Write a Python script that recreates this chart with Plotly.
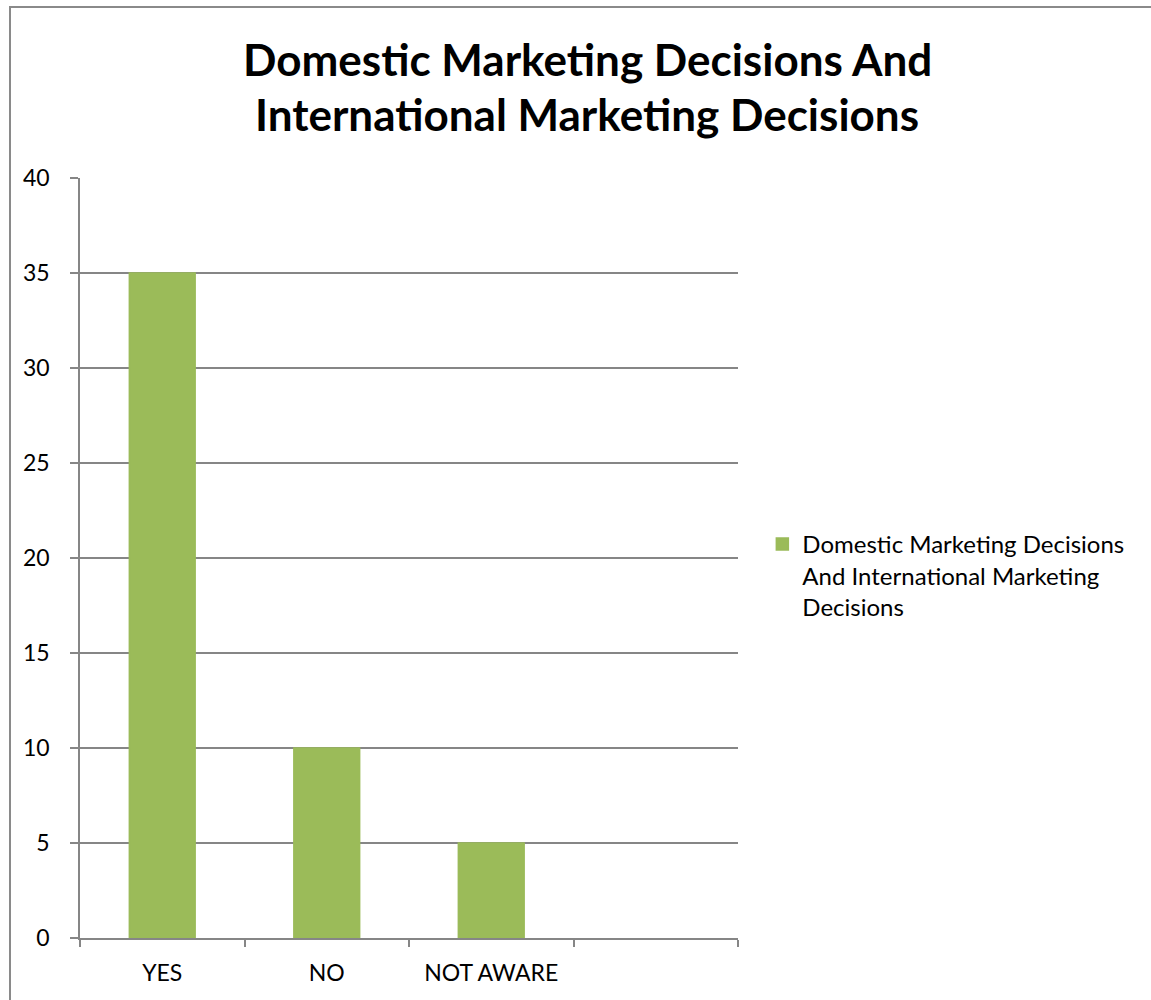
import plotly.graph_objects as go

# Survey responses
categories = ["YES", "NO", "NOT AWARE", " "]
responses = [35, 10, 5, None]
series_name = "Domestic Marketing Decisions<br>And International Marketing<br>Decisions"
title_lines = ["Domestic Marketing Decisions And", "International Marketing Decisions"]
y_ticks = [0, 5, 10, 15, 20, 25, 30, 35, 40]

FONT = "Lato, 'Open Sans', sans-serif"
GRID = "#868686"

fig = go.Figure()
fig.add_trace(go.Bar(
    x=categories,
    y=responses,
    name=series_name,
    width=0.4,
    marker=dict(color="#9BBB59", line=dict(color="#9BBB59", width=1.5)),
    showlegend=True,
))

fig.update_layout(
    width=1151,
    height=1000,
    paper_bgcolor="white",
    plot_bgcolor="white",
    margin=dict(l=80, r=413, t=178, b=62),
    font=dict(family=FONT, size=23, color="black"),
    legend=dict(
        x=1.037,
        xanchor="left",
        y=0.477,
        yanchor="middle",
        valign="top",
        font=dict(family=FONT, size=24, color="black"),
        bgcolor="rgba(0,0,0,0)",
    ),
    bargap=0.6,
    showlegend=True,
)

# Two-line bold chart title
for i, line in enumerate(title_lines):
    fig.add_annotation(
        text="<b>" + line + "</b>",
        xref="paper", yref="paper",
        x=(587 - 80) / 658,
        y=(938 - (59 + 55 * i)) / 760,
        xanchor="center", yanchor="middle",
        showarrow=False,
        font=dict(family=FONT, size=44, color="black"),
    )

fig.update_xaxes(
    type="category",
    categoryorder="array",
    categoryarray=categories,
    range=[-0.5, 3.5],
    tickson="boundaries",
    ticks="outside",
    ticklen=7,
    tickwidth=2,
    tickcolor=GRID,
    showline=True,
    linecolor=GRID,
    linewidth=2,
    showgrid=False,
    zeroline=False,
    tickfont=dict(family=FONT, size=23, color="black"),
    ticklabelstandoff=13,
)

fig.update_yaxes(
    range=[0, 40],
    tickvals=y_ticks,
    ticks="outside",
    ticklen=8,
    tickwidth=1.5,
    tickcolor=GRID,
    showline=True,
    linecolor=GRID,
    linewidth=1.5,
    showgrid=True,
    gridcolor=GRID,
    gridwidth=1.5,
    zeroline=False,
    tickfont=dict(family=FONT, size=23, color="black"),
    ticklabelstandoff=16,
)

# Outer chart border
fig.add_shape(
    type="rect",
    xref="paper", yref="paper",
    x0=(10 - 80) / 658, x1=2.0,
    y0=-0.5, y1=(938 - 7) / 760,
    line=dict(color="#8a8a8a", width=2),
    fillcolor="rgba(0,0,0,0)",
    layer="below",
)

fig.write_html("out.html")
